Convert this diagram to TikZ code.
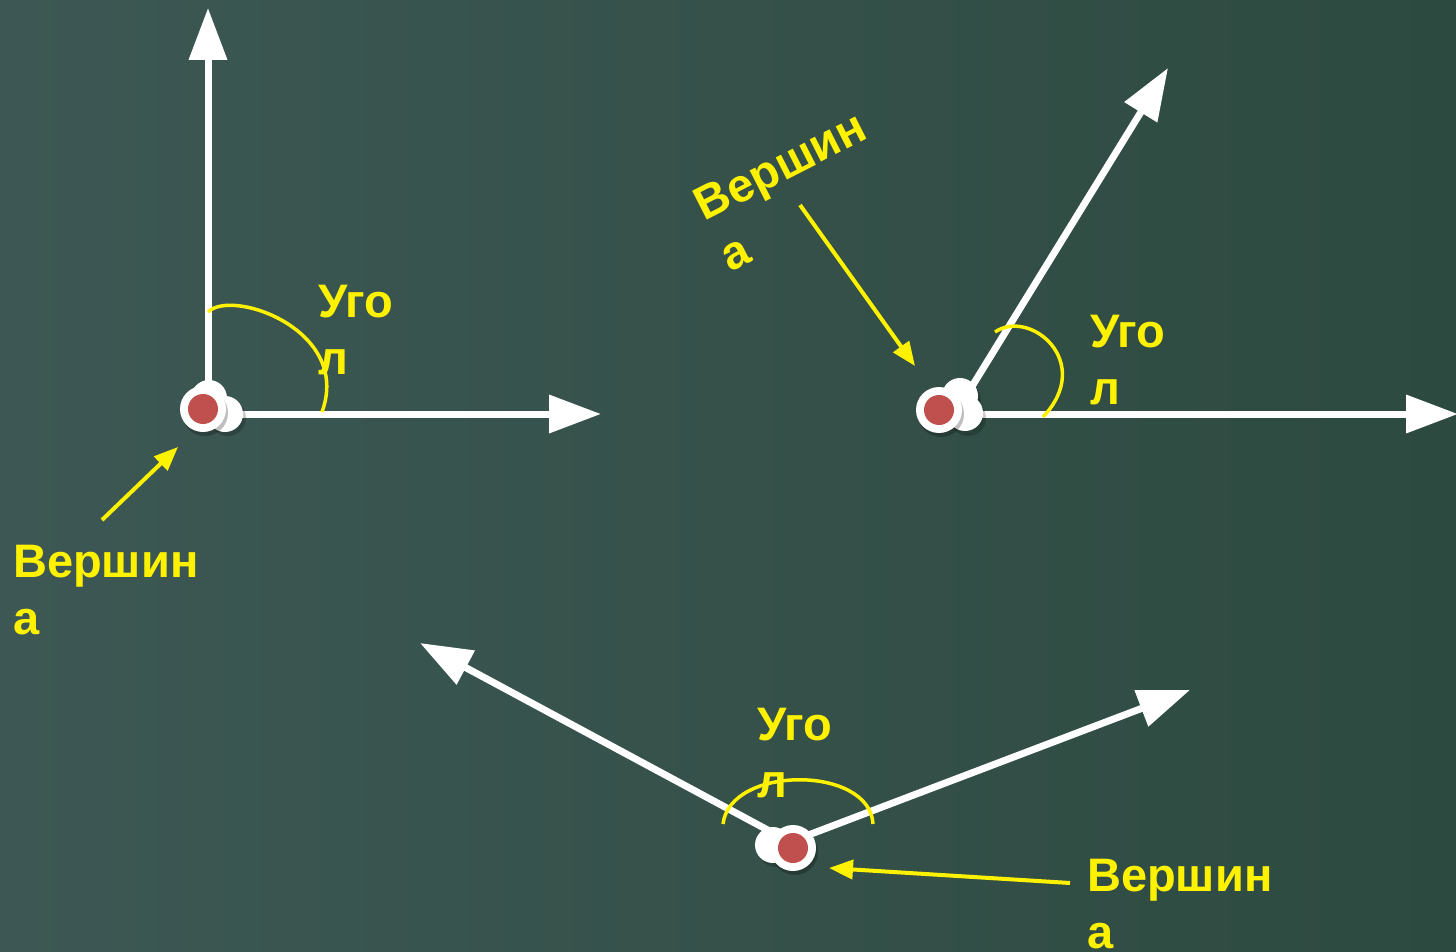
\documentclass[tikz,border=0pt]{standalone}
\usepackage{fontspec}
\setmainfont{Liberation Sans}
\usetikzlibrary{arrows.meta,positioning}
\definecolor{boardL}{RGB}{61,88,84}
\definecolor{boardR}{RGB}{45,74,64}
\definecolor{dotred}{RGB}{192,80,77}
\tikzset{
  ray/.style={draw=white, line width=7pt, -{Triangle[length=52pt,width=37pt]}},
  arc/.style={draw=yellow, line width=3.5pt},
  pointer/.style={draw=yellow, line width=4pt, -{Triangle[length=24pt,width=19pt]}},
  lbl/.style={text=yellow, font=\fontsize{47}{57}\selectfont\bfseries, align=left, inner sep=0pt, anchor=north west}
}
\newcommand{\knob}[2]{%
  \fill[black, opacity=.25] ($(#1)+(2,4)$) circle (23);
  \fill[white] (#1) circle (23);
  \fill[dotred] (#1) circle (15);
}
\usetikzlibrary{calc}
\begin{document}
\begin{tikzpicture}[x=1pt, y=-1pt]
\shade[left color=boardL, right color=boardR] (0,0) rectangle (1456,952);
\useasboundingbox (0,0) rectangle (1456,952);

% right angle
\coordinate (O1) at (208,414);
\coordinate (A1) at (208,8);
\coordinate (B1) at (601,414);
\draw[ray] (O1) -- (A1);
\draw[ray] (O1) -- (B1);
\draw[arc] (208,312) .. controls (232,288) and (352,330) .. (322,412);
\fill[black, opacity=.2] (211,402) circle (18) (228,418) circle (18);
\fill[white] (209,398) circle (18) (225,414) circle (18);
\knob{203,409}{}
\node[lbl] (u1) at (318,285) {Уго\\л};
\node[lbl] (v1) at (13,545) {Вершин\\а};
\coordinate (s1) at (102,520);
\coordinate (e1) at (178,447);
\draw[pointer] (s1) -- (e1);

% acute angle
\coordinate (O2) at (955,414);
\coordinate (A2) at (1168,68);
\coordinate (B2) at (1458,414);
\draw[ray] (O2) -- (A2);
\draw[ray] (O2) -- (B2);
\draw[arc] (995,332) .. controls (1030,308) and (1095,362) .. (1043,417);
\fill[black, opacity=.2] (963,400) circle (18) (968,418) circle (18);
\fill[white] (960,396) circle (18) (965,413) circle (18);
\knob{939,410}{}
\node[lbl] (u2) at (1090,315) {Уго\\л};
\node[lbl, rotate=27] (v2) at (690,193) {Вершин\\а};
\coordinate (s2) at (800,205);
\coordinate (e2) at (915,366);
\draw[pointer] (s2) -- (e2);

% obtuse angle
\coordinate (O3) at (790,842);
\coordinate (A3) at (420,643);
\coordinate (B3) at (1190,690);
\draw[ray] (O3) -- (A3);
\draw[ray] (O3) -- (B3);
\draw[arc] (723,824) .. controls (730,765) and (870,765) .. (873,824);
\fill[black, opacity=.2] (776,849) circle (18);
\fill[white] (773,845) circle (18);
\knob{793,848}{}
\node[lbl] (u3) at (757,708) {Уго\\л};
\node[lbl] (v3) at (1087,859) {Вершин\\а};
\coordinate (s3) at (1070,883);
\coordinate (e3) at (829,868);
\draw[pointer] (s3) -- (e3);
\end{tikzpicture}
\end{document}
